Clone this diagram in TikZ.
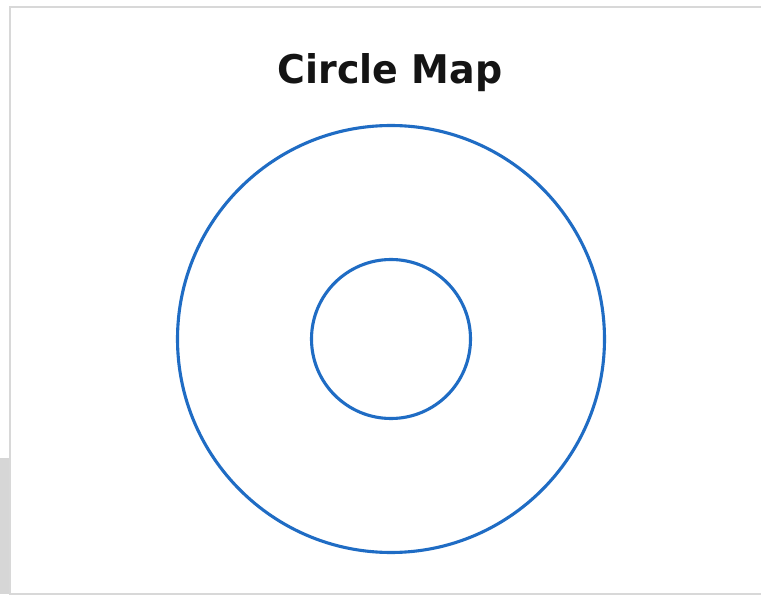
\documentclass[tikz,border=0pt]{standalone}
\usepackage{fontspec}
\setmainfont{DejaVu Sans}
\usetikzlibrary{positioning}
\definecolor{ringc}{HTML}{1F6CC4}
\definecolor{framec}{HTML}{D8D8D8}
\definecolor{shadec}{HTML}{D6D6D6}

\begin{document}
\begin{tikzpicture}[x=1pt, y=1pt,
  ring/.style={draw=ringc, line width=3.1pt, circle, inner sep=0pt},
  heading/.style={font=\bfseries\fontsize{39.5}{44}\selectfont, text=black!92, anchor=base, xscale=0.96}]
\useasboundingbox (0,0) rectangle (761,598);
% frame and its shadow
\fill[shadec] (0,4) rectangle (10,140);
\fill[white] (10,4) rectangle (761,591);
\draw[framec, line width=1.4pt] (761,591) -- (10,591) -- (10,4) -- (761,4);
% the map
\node[ring, minimum size=427pt] (frame) at (391,259) {};
\node[ring, minimum size=159pt] (topic) at (391,259) {};
\node[heading] (title) at (390,514) {Circle Map};
\end{tikzpicture}
\end{document}
